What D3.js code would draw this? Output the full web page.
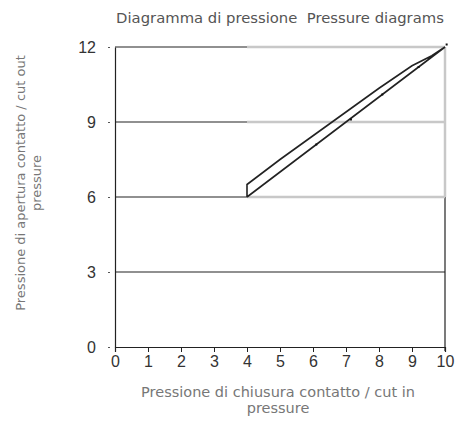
<!DOCTYPE html>
<html lang="en">
<head>
    <meta charset="UTF-8">
    <title>Diagramma di pressione</title>
    <script src="https://d3js.org/d3.v7.min.js"></script>
    <style>
        body { margin: 0; background: #fff; }
        svg { font-family: Arial, "Liberation Sans", sans-serif; }
        .tick text { font-size: 16px; fill: #333; }
        .title, .axis-title { font-family: "DejaVu Sans", sans-serif; white-space: pre; }
        .title { fill: #555; }
        .axis-title { fill: #777; }
    </style>
</head>
<body>
    <div id="DV"></div>
    <script>
        // hysteresis loop: rising (cut out) edge, then falling (cut in) edge back to start
        var upperX = [4, 4, 5, 6, 7, 8, 9, 9.6, 10];
        var upperY = [6, 6.5, 7.5, 8.45, 9.4, 10.35, 11.25, 11.65, 12];
        var lowerX = [10, 4];
        var lowerY = [12, 6];
        var markX = [6.1, 7.15, 8.1, 9.2, 10.05];
        var markY = [8.1, 9.1, 10.1, 11.2, 12.1];
        var xTicks = [0, 1, 2, 3, 4, 5, 6, 7, 8, 9, 10];
        var yTicks = [0, 3, 6, 9, 12];
        // working range box (x 4..10, y 6..12)
        var boxX = [4, 10];
        var boxY = [6, 12];

        var margin = { top: 47, right: 16, bottom: 82, left: 115 },
            width = 461 - margin.left - margin.right,
            height = 429 - margin.top - margin.bottom;

        var svg = d3.select("#DV")
            .append("svg")
            .attr("width", 461)
            .attr("height", 429);

        var g = svg.append("g")
            .attr("transform", "translate(" + margin.left + "," + margin.top + ")");

        var x = d3.scaleLinear().domain([0, 10]).range([0, width]);
        var y = d3.scaleLinear().domain([0, 12]).range([height, 0]);

        // black gridlines
        g.selectAll(".grid")
            .data(yTicks.filter(function (d) { return d > 0; }))
            .enter()
            .append("line")
            .attr("x1", 0)
            .attr("x2", width)
            .attr("y1", function (d) { return y(d); })
            .attr("y2", function (d) { return y(d); })
            .attr("stroke", "#222")
            .attr("stroke-width", 1.2);

        // right border
        g.append("line")
            .attr("x1", width).attr("x2", width)
            .attr("y1", 0).attr("y2", height + 4)
            .attr("stroke", "#222")
            .attr("stroke-width", 1.2);

        // shaded box over the working range
        g.append("rect")
            .attr("x", x(boxX[0]))
            .attr("y", y(boxY[1]))
            .attr("width", x(boxX[1]) - x(boxX[0]))
            .attr("height", y(boxY[0]) - y(boxY[1]))
            .attr("fill", "#fff");

        var greyLines = [
            [boxX[0], boxY[1], boxX[1], boxY[1]],
            [boxX[0], 9, boxX[1], 9],
            [boxX[0], boxY[0], boxX[1], boxY[0]],
            [boxX[1], boxY[0], boxX[1], boxY[1]]
        ];
        g.selectAll(".boxline")
            .data(greyLines)
            .enter()
            .append("line")
            .attr("x1", function (d) { return x(d[0]); })
            .attr("y1", function (d) { return y(d[1]); })
            .attr("x2", function (d) { return x(d[2]); })
            .attr("y2", function (d) { return y(d[3]); })
            .attr("stroke", "#c8c8c8")
            .attr("stroke-width", 2.5);

        // axes
        var xAxis = g.append("g")
            .attr("transform", "translate(0," + height + ")")
            .call(d3.axisBottom(x).tickValues(xTicks).tickSize(5).tickPadding(4));
        xAxis.select(".domain").attr("stroke", "#222").attr("stroke-width", 1.2);
        xAxis.selectAll(".tick line").attr("stroke", "#222");

        var yAxis = g.append("g")
            .call(d3.axisLeft(y).tickValues(yTicks).tickSize(0).tickPadding(19).tickSizeOuter(0));
        yAxis.select(".domain").attr("stroke", "#222").attr("stroke-width", 1.2);
        yAxis.selectAll(".tick").append("line")
            .attr("x1", -7).attr("x2", -5)
            .attr("stroke", "#555");

        // loop
        var pts = upperX.map(function (v, i) { return [v, upperY[i]]; })
            .concat(lowerX.map(function (v, i) { return [v, lowerY[i]]; }));
        var line = d3.line()
            .x(function (d) { return x(d[0]); })
            .y(function (d) { return y(d[1]); });
        g.append("path")
            .attr("d", line(pts))
            .attr("fill", "none")
            .attr("stroke", "#222")
            .attr("stroke-width", 1.6);

        g.selectAll(".mark")
            .data(markX)
            .enter()
            .append("rect")
            .attr("x", function (d) { return x(d) - 1; })
            .attr("y", function (d, i) { return y(markY[i]) - 1; })
            .attr("width", 2)
            .attr("height", 2)
            .attr("fill", "#111");

        // titles
        svg.append("text")
            .attr("class", "title")
            .attr("x", 280)
            .attr("y", 23)
            .attr("text-anchor", "middle")
            .style("font-size", "14.8px")
            .text("Diagramma di pressione  Pressure diagrams");

        var xt = svg.append("text")
            .attr("class", "axis-title")
            .attr("text-anchor", "middle")
            .style("font-size", "14.5px");
        xt.append("tspan").attr("x", 278).attr("y", 397).text("Pressione di chiusura contatto / cut in");
        xt.append("tspan").attr("x", 278).attr("y", 413).text("pressure");

        var yt = svg.append("text")
            .attr("class", "axis-title")
            .attr("text-anchor", "middle")
            .attr("transform", "translate(0,183) rotate(-90)")
            .style("font-size", "13px");
        yt.append("tspan").attr("x", 0).attr("y", 25).text("Pressione di apertura contatto / cut out");
        yt.append("tspan").attr("x", 0).attr("y", 41).text("pressure");
    </script>
</body>
</html>
